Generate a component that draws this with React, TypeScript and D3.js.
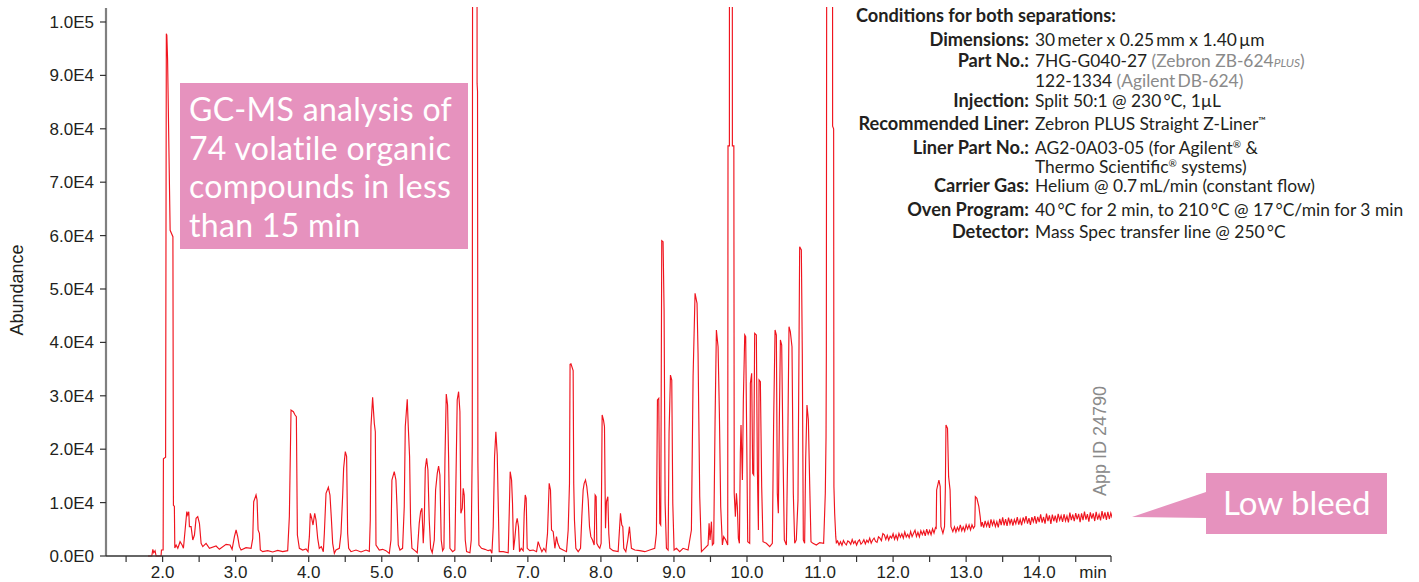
import React from 'react';
import * as d3 from 'd3';

// ---------- axis data ----------
const yTickValues = [0, 10000, 20000, 30000, 40000, 50000, 60000, 70000, 80000, 90000, 100000];
const yTickLabels = ['0.0E0', '1.0E4', '2.0E4', '3.0E4', '4.0E4', '5.0E4', '6.0E4', '7.0E4', '8.0E4', '9.0E4', '1.0E5'];
const xMajorTicks = [2, 3, 4, 5, 6, 7, 8, 9, 10, 11, 12, 13, 14];
const xTickLabels = ['2.0', '3.0', '4.0', '5.0', '6.0', '7.0', '8.0', '9.0', '10.0', '11.0', '12.0', '13.0', '14.0'];
const xMinorTicks = [1.5, 2.5, 3.5, 4.5, 5.5, 6.5, 7.5, 8.5, 9.5, 10.5, 11.5, 12.5, 13.5, 14.5];
const xDomain = [1.225, 14.983];
const yDomain = [0, 102620];

// ---------- chromatogram (time min, abundance) ----------
const traceA = [
  [1.80, 0], [1.852, 0], [1.866, 1250], [1.879, 620], [1.897, 1000], [1.911, 0], [1.979, 0], [1.984, 1120],
  [2.007, 1120], [2.011, 18200], [2.041, 18500], [2.051, 97800], [2.058, 97500], [2.068, 93000], [2.103, 61000],
  [2.141, 59800], [2.148, 9500], [2.161, 9300], [2.167, 1500], [2.185, 2060], [2.208, 1440], [2.239, 2680],
  [2.267, 2060], [2.285, 1440], [2.308, 4870], [2.331, 8300], [2.344, 7680], [2.358, 8300], [2.367, 5490],
  [2.390, 5490], [2.413, 3000], [2.436, 3930], [2.458, 7050], [2.481, 7370], [2.504, 6120], [2.527, 2370],
  [2.550, 1750], [2.595, 2370], [2.641, 1440], [2.732, 1870], [2.777, 1250], [2.869, 2180], [2.923, 2060],
  [2.951, 1250], [2.983, 3620], [3.006, 4870], [3.028, 3620], [3.051, 1750], [3.074, 1120], [3.142, 1560],
  [3.211, 1440], [3.234, 3310], [3.247, 10170], [3.279, 11420], [3.293, 10490], [3.307, 4870], [3.325, 4240],
  [3.338, 1120], [3.370, 810], [3.439, 1000], [3.507, 750], [3.576, 1060], [3.644, 810], [3.712, 1000],
];
const traceB = [
  [3.735, 7370], [3.758, 27340], [3.790, 27030], [3.813, 26400], [3.831, 26090], [3.845, 3930], [3.872, 1440],
  [3.918, 1120], [3.963, 1310], [3.991, 810], [4.009, 3620], [4.022, 7990], [4.041, 7050], [4.059, 5800],
  [4.082, 7990], [4.100, 6740], [4.123, 3310], [4.145, 1440], [4.173, 1750], [4.200, 810], [4.214, 4240],
  [4.237, 11730], [4.269, 12860], [4.291, 11420], [4.310, 7050], [4.328, 2370], [4.351, 500], [4.373, 1120],
  [4.419, 1440], [4.442, 4240], [4.465, 11420], [4.478, 16420], [4.501, 19540], [4.519, 18600], [4.533, 4240],
  [4.547, 1440], [4.579, 810], [4.647, 1120], [4.716, 750], [4.784, 1120], [4.830, 870], [4.843, 6740],
  [4.852, 24220], [4.875, 29710], [4.898, 24840], [4.912, 23280], [4.921, 2060], [4.966, 1120], [5.012, 1250],
  [5.057, 1000], [5.103, 500], [5.126, 3000], [5.139, 14230], [5.171, 15790], [5.194, 14230], [5.208, 9550],
  [5.226, 2060], [5.249, 1120], [5.285, 1440], [5.308, 9240],
];
const traceC = [
  [5.322, 24220], [5.349, 29340], [5.363, 24220], [5.381, 18600], [5.395, 6120], [5.413, 1440], [5.454, 1000],
  [5.486, 620], [5.513, 6120], [5.532, 8300], [5.550, 8930], [5.568, 2370], [5.582, 6430], [5.596, 16420],
  [5.614, 18290], [5.632, 16100], [5.650, 6740], [5.669, 1440], [5.691, 620], [5.719, 3000], [5.737, 12360],
  [5.760, 15480], [5.778, 16850], [5.796, 15170], [5.814, 3000], [5.833, 1000], [5.851, 1440], [5.865, 17980],
  [5.883, 30340], [5.901, 28280], [5.915, 18600], [5.933, 1440], [5.970, 810], [6.001, 1120], [6.020, 17980],
  [6.033, 29210], [6.052, 30770], [6.070, 27030], [6.083, 7990], [6.102, 8930], [6.115, 12670], [6.129, 11420],
  [6.143, 3000], [6.161, 810], [6.207, 620], [6.225, 3000], [6.239, 20470], [6.250, 250000], [6.300, 250000],
  [6.305, 88500], [6.311, 87000], [6.316, 17500], [6.330, 2060], [6.366, 1440], [6.412, 1250], [6.457, 1000],
  [6.489, 1120], [6.508, 500], [6.526, 5490], [6.544, 18600], [6.562, 23280], [6.581, 18910], [6.594, 10170],
  [6.608, 810], [6.663, 810], [6.731, 620], [6.745, 7990], [6.758, 15790], [6.777, 14230], [6.790, 9860],
  [6.804, 1120], [6.822, 3310], [6.840, 6120], [6.854, 7050], [6.872, 5490], [6.886, 810], [6.909, 1440],
  [6.936, 1000], [6.950, 7990], [6.964, 11420], [6.977, 10800], [6.991, 1440], [7.027, 1000], [7.073, 1120],
  [7.119, 810], [7.141, 2680], [7.164, 1750], [7.192, 810], [7.219, 1440], [7.246, 810], [7.269, 4240],
  [7.292, 13610], [7.310, 12360], [7.324, 4870], [7.347, 4560], [7.370, 1440], [7.392, 3620], [7.410, 2370],
  [7.438, 1440], [7.483, 1120], [7.529, 810], [7.552, 4870], [7.570, 13610], [7.578, 35900], [7.590, 36000],
  [7.620, 34700], [7.628, 13600], [7.638, 6740], [7.657, 1440], [7.689, 810],
];
const traceD = [
  [7.721, 1440], [7.739, 7370], [7.757, 12360], [7.771, 13610], [7.789, 14230], [7.807, 12980], [7.826, 10490],
  [7.844, 5490], [7.862, 3620], [7.885, 3000], [7.908, 2060], [7.921, 11420], [7.935, 11110], [7.944, 2370],
  [7.967, 1750], [7.985, 1440], [8.003, 2370], [8.017, 26400], [8.035, 25470], [8.049, 24220], [8.063, 5180],
  [8.076, 10170], [8.095, 11110], [8.108, 4240], [8.122, 1440], [8.167, 1000], [8.236, 810], [8.254, 4870],
  [8.268, 7990], [8.286, 5800], [8.300, 5490], [8.313, 1440], [8.341, 810], [8.368, 3000], [8.391, 5490],
  [8.405, 3310], [8.418, 1440], [8.464, 1120], [8.532, 1000], [8.601, 810], [8.669, 1120], [8.737, 1440],
];
const traceE = [
  [8.760, 4240], [8.774, 29210], [8.792, 29520], [8.806, 6120], [8.819, 5800], [8.833, 59050], [8.851, 58860],
  [8.865, 46070], [8.879, 9860], [8.897, 1440], [8.920, 1120], [8.933, 22970], [8.952, 33890], [8.970, 32960],
  [8.984, 9860], [9.002, 1120], [9.034, 1440], [9.079, 810], [9.125, 1440], [9.193, 1120], [9.239, 4870],
  [9.262, 33580], [9.289, 49190], [9.316, 47310], [9.330, 37950], [9.353, 11110], [9.376, 810], [9.421, 1440],
  [9.467, 2060], [9.481, 6120], [9.494, 3000], [9.513, 6430], [9.526, 2060], [9.544, 2370], [9.563, 25470],
  [9.581, 42320], [9.604, 39200], [9.622, 26720], [9.640, 9240], [9.663, 2060], [9.681, 3620], [9.709, 3000],
  [9.736, 2060], [9.740, 76800], [9.759, 76800], [9.762, 250000], [9.795, 250000], [9.800, 76800],
  [9.820, 76800], [9.825, 11740], [9.841, 7370], [9.855, 11740], [9.868, 9240], [9.882, 3310], [9.896, 2370],
  [9.909, 19230], [9.918, 24530], [9.937, 14230], [9.950, 29210], [9.969, 41390], [9.982, 41070], [9.996, 22350],
  [10.010, 2680], [10.037, 2370], [10.046, 32330], [10.064, 34210], [10.078, 15480], [10.092, 15170],
  [10.105, 41700], [10.128, 41390], [10.142, 16100], [10.156, 4870], [10.165, 32960], [10.183, 32650],
  [10.201, 12980], [10.219, 2680], [10.265, 2370], [10.311, 1750], [10.347, 2370], [10.365, 25470],
  [10.384, 42320], [10.402, 41390], [10.415, 11740], [10.429, 7990], [10.443, 25470], [10.457, 40450],
  [10.475, 39510], [10.493, 19230], [10.511, 3000], [10.539, 2060], [10.557, 19850], [10.575, 42950],
  [10.593, 42010], [10.616, 39200], [10.634, 11740], [10.653, 2370], [10.675, 3000], [10.698, 10490],
  [10.721, 57930], [10.744, 57300], [10.757, 37950], [10.771, 3000], [10.789, 2370], [10.803, 17980],
  [10.821, 28280], [10.840, 25470], [10.858, 13610], [10.876, 2680], [10.903, 2370], [10.949, 2060],
  [10.995, 2500], [11.049, 2370], [11.072, 11740], [11.082, 22300], [11.086, 37500], [11.100, 250000],
  [11.168, 250000], [11.172, 80500], [11.186, 80000], [11.190, 12980], [11.200, 8000], [11.215, 3620],
  [11.223, 2500],
];
const traceF = [
  [11.24, 2800], [11.26, 2050], [11.28, 2660], [11.30, 2000], [11.32, 2900], [11.34, 2380], [11.36, 2080],
  [11.38, 2840], [11.40, 2620], [11.42, 2180], [11.44, 3080], [11.46, 2340], [11.48, 2800], [11.50, 2050],
  [11.52, 2730], [11.54, 3030], [11.56, 2220], [11.58, 2520], [11.60, 3050], [11.62, 2280], [11.64, 2940],
  [11.66, 2540], [11.68, 3340], [11.70, 2420], [11.72, 3000], [11.74, 3350], [11.76, 2730], [11.78, 2560],
  [11.80, 3580], [11.82, 3340], [11.84, 2870], [11.86, 4190], [11.88, 3950], [11.90, 3100], [11.92, 3880],
  [11.94, 2950], [11.96, 3730], [11.98, 3380], [12.00, 4170], [12.02, 3150], [12.04, 3930], [12.06, 3070],
  [12.08, 4230], [12.10, 3510], [12.12, 4150], [12.14, 3350], [12.16, 4510], [12.18, 3570], [12.20, 4050],
  [12.22, 3410], [12.24, 4570], [12.26, 3630], [12.28, 4260], [12.30, 4820], [12.32, 3650], [12.34, 4430],
  [12.36, 3570], [12.38, 4730], [12.40, 4010], [12.42, 4720], [12.44, 3780], [12.46, 5010], [12.48, 4070],
  [12.50, 4780], [12.52, 3990], [12.54, 5080], [12.56, 4300], [12.58, 5320],
  [12.590, 5200], [12.596, 12360], [12.627, 14230], [12.645, 13000], [12.655, 5490], [12.682, 4240],
  [12.704, 5490], [12.715, 12360], [12.724, 24530], [12.745, 23900], [12.760, 14860], [12.780, 12360],
  [12.792, 5490], [12.818, 4560],
  [12.84, 5450], [12.86, 4500], [12.88, 5370], [12.90, 4720], [12.92, 5820], [12.94, 4730], [12.96, 5450],
  [12.98, 4660], [13.00, 5830], [13.02, 5040], [13.04, 5830], [13.06, 4900], [13.08, 5840], [13.10, 5200],
  [13.118, 5600], [13.126, 11110], [13.147, 10800], [13.174, 9240], [13.192, 7370], [13.206, 5490],
  [13.22, 6340], [13.24, 5330], [13.26, 6570], [13.28, 5560], [13.30, 6430], [13.32, 5260], [13.34, 6850],
  [13.36, 5760], [13.38, 6610], [13.40, 5510], [13.42, 6440], [13.44, 5340], [13.46, 6940], [13.48, 5770],
  [13.50, 7220], [13.52, 5740], [13.54, 6900], [13.56, 5650], [13.58, 7170], [13.60, 6000], [13.62, 6930],
  [13.64, 5690], [13.66, 6830], [13.68, 6040], [13.70, 7260], [13.72, 5860], [13.74, 6860], [13.76, 5760],
  [13.78, 7210], [13.80, 6330], [13.82, 7480], [13.84, 6080], [13.86, 7080], [13.88, 5830], [13.90, 7280],
  [13.92, 6400], [13.94, 7480], [13.96, 6080], [13.98, 7310], [14.00, 6350], [14.02, 7800], [14.04, 6230],
  [14.06, 7300], [14.08, 6040], [14.10, 7930], [14.12, 6530], [14.14, 7590], [14.16, 6030], [14.18, 7770],
  [14.20, 6510], [14.22, 7580], [14.24, 6240], [14.26, 7910], [14.28, 6720], [14.30, 7570], [14.32, 6390],
  [14.34, 7820], [14.36, 6570], [14.38, 7480], [14.40, 6300], [14.42, 8120], [14.44, 6700], [14.46, 7770],
  [14.48, 6510], [14.50, 8030], [14.52, 6840], [14.54, 7900], [14.56, 6320], [14.58, 7980], [14.60, 6720],
  [14.62, 8300], [14.64, 6810], [14.66, 7860], [14.68, 6450], [14.70, 8180], [14.72, 6990], [14.74, 7980],
  [14.76, 6550], [14.78, 8290], [14.80, 6800], [14.82, 7780], [14.84, 6670], [14.86, 8390], [14.88, 6980],
  [14.90, 8190], [14.92, 6770], [14.94, 8280], [14.96, 6930], [14.98, 8070], [15.00, 7100],
];

const boxLines = ['GC-MS analysis of', '74 volatile organic', 'compounds in less', 'than 15 min'];

const PINK = '#e692be';
const INK = '#231f20';
const GRAY = '#8a8a8a';

export default function App() {
  const left = 106, right = 1111, top = 8, bottom = 556;
  const x = d3.scaleLinear().domain(xDomain).range([left, right]);
  const y = d3.scaleLinear().domain(yDomain).range([bottom, top]);
  const data = [...traceA, ...traceB, ...traceC, ...traceD, ...traceE, ...traceF];
  const line = d3.line<number[]>().x((d) => x(d[0])).y((d) => y(d[1]));
  const allXTicks = [...xMinorTicks, ...xMajorTicks, xDomain[1]];

  const labelX = 1029;
  const valX = 1035;
  const condFont = 'Lato, sans-serif';
  const axisFont = "'Liberation Sans', Arial, sans-serif";

  return (
    <svg width={1419} height={582} style={{ position: 'absolute', left: 0, top: 0 }} xmlns="http://www.w3.org/2000/svg">
      <rect width={1419} height={582} fill="#ffffff" />
      <defs>
        <clipPath id="plotclip">
          <rect x={left} y={top - 1} width={right - left + 1} height={bottom - top + 6} />
        </clipPath>
      </defs>

      {/* trace */}
      <path d={line(data) || ''} fill="none" stroke="#f0141e" strokeWidth={1.15} strokeLinejoin="miter" clipPath="url(#plotclip)" />

      {/* y axis */}
      <line x1={left} x2={left} y1={top} y2={bottom} stroke="#808080" strokeWidth={2.2} />
      {yTickValues.map((v, i) => (
        <g key={'y' + i}>
          <line x1={left - 6} x2={left} y1={y(v)} y2={y(v)} stroke="#333" strokeWidth={1.2} />
          <text x={94} y={y(v) + 6} textAnchor="end" fontFamily={axisFont} fontSize={17} fill={INK}>
            {yTickLabels[i]}
          </text>
        </g>
      ))}
      <text transform={`translate(23,290) rotate(-90)`} textAnchor="middle" fontFamily={axisFont} fontSize={18} fill={INK}>
        Abundance
      </text>

      {/* x axis */}
      <line x1={left} x2={right} y1={bottom} y2={bottom} stroke="#333" strokeWidth={1.4} />
      {allXTicks.map((t, i) => (
        <line key={'xt' + i} x1={x(t)} x2={x(t)} y1={bottom} y2={bottom + 6} stroke="#333" strokeWidth={1.2} />
      ))}
      {xMajorTicks.map((t, i) => (
        <text key={'xl' + i} x={x(t)} y={577.5} textAnchor="middle" fontFamily={axisFont} fontSize={17} fill={INK}>
          {xTickLabels[i]}
        </text>
      ))}
      <text x={1093} y={577.5} textAnchor="middle" fontFamily={axisFont} fontSize={17} fill={INK}>
        min
      </text>

      {/* pink annotation box */}
      <rect x={180} y={83} width={288} height={166} fill={PINK} />
      {boxLines.map((s, i) => (
        <text key={'b' + i} x={189} y={121 + i * 38.5} fontFamily={condFont} fontSize={32} letterSpacing={0.3} fill="#ffffff">
          {s}
        </text>
      ))}

      {/* low bleed callout */}
      <polygon points="1132,517 1206,492 1206,518" fill={PINK} />
      <rect x={1206} y={473} width={181} height={61} fill={PINK} />
      <text x={1223} y={515} fontFamily={condFont} fontSize={33} fill="#ffffff">Low bleed</text>

      {/* App ID */}
      <text transform="translate(1106,441) rotate(-90)" textAnchor="middle" fontFamily={axisFont} fontSize={18} fill={GRAY}>
        App ID 24790
      </text>

      {/* conditions */}
      <g fontFamily={condFont} fontSize={17.4} fill={INK}>
        <text x={856} y={22} fontWeight={700} fontSize={18.2}>Conditions for both separations:</text>

        <text x={labelX} y={46} textAnchor="end" fontWeight={700} fontSize={18.2}>Dimensions:</text>
        <text x={valX} y={46}>30{'\u2009'}meter x 0.25{'\u2009'}mm x 1.40{'\u2009'}µm</text>

        <text x={labelX} y={66.5} textAnchor="end" fontWeight={700} fontSize={18.2}>Part No.:</text>
        <text x={valX} y={66.5}>
          7HG-G040-27 <tspan fill={GRAY}>(Zebron ZB-624<tspan fontStyle="italic" fontSize={12}>PLUS</tspan>)</tspan>
        </text>
        <text x={valX} y={87}>
          122-1334 <tspan fill={GRAY}>(Agilent{'\u2009'}DB-624)</tspan>
        </text>

        <text x={labelX} y={107} textAnchor="end" fontWeight={700} fontSize={18.2}>Injection:</text>
        <text x={valX} y={107}>Split 50:1 @ 230{'\u2009'}°C, 1µL</text>

        <text x={labelX} y={130} textAnchor="end" fontWeight={700} fontSize={18.2}>Recommended Liner:</text>
        <text x={valX} y={130}>
          Zebron PLUS Straight Z-Liner<tspan fontSize={10} dy={-6}>™</tspan>
        </text>

        <text x={labelX} y={153.5} textAnchor="end" fontWeight={700} fontSize={18.2}>Liner Part No.:</text>
        <text x={valX} y={153.5}>
          AG2-0A03-05 (for Agilent<tspan fontSize={10} dy={-6}>®</tspan><tspan dy={6}> &amp;</tspan>
        </text>
        <text x={valX} y={172.5}>
          Thermo Scientific<tspan fontSize={10} dy={-6}>®</tspan><tspan dy={6}> systems)</tspan>
        </text>

        <text x={labelX} y={192} textAnchor="end" fontWeight={700} fontSize={18.2}>Carrier Gas:</text>
        <text x={valX} y={192}>Helium @ 0.7{'\u2009'}mL/min (constant flow)</text>

        <text x={labelX} y={215.5} textAnchor="end" fontWeight={700} fontSize={18.2}>Oven Program:</text>
        <text x={valX} y={215.5}>40{'\u2009'}°C for 2 min, to 210{'\u2009'}°C @ 17{'\u2009'}°C/min for 3 min</text>

        <text x={labelX} y={238} textAnchor="end" fontWeight={700} fontSize={18.2}>Detector:</text>
        <text x={valX} y={238}>Mass Spec transfer line @ 250{'\u2009'}°C</text>
      </g>
    </svg>
  );
}
